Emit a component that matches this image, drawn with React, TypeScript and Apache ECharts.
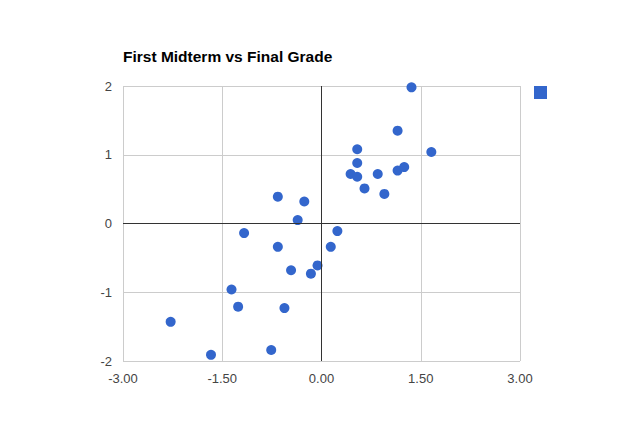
import React, { useEffect, useRef } from "react";
import * as echarts from "echarts";

const firstMidterm = [1.36, 1.15, 1.66, 0.54, 0.54, 0.44, 0.54, 0.85, 1.15, 1.25, 0.65, 0.95, -0.66, -0.26, -0.36, -1.17, 0.24, -0.66, 0.14, -0.46, -0.06, -0.16, -1.36, -1.26, -0.56, -2.28, -0.76, -1.67];
const finalGrade = [1.98, 1.35, 1.04, 1.08, 0.88, 0.72, 0.68, 0.72, 0.77, 0.82, 0.51, 0.43, 0.39, 0.32, 0.05, -0.14, -0.11, -0.34, -0.34, -0.68, -0.61, -0.73, -0.96, -1.21, -1.23, -1.43, -1.84, -1.91];
const xTicks = { min: -3, max: 3, interval: 1.5 };
const yTicks = { min: -2, max: 2, interval: 1 };
const titleText = "First Midterm vs Final Grade";
const seriesName = "Final Grade";

const FONT = "'Liberation Sans', Arial, sans-serif";
const BLUE = "#3366cc";

export default function App() {
  const ref = useRef<HTMLDivElement>(null);
  useEffect(() => {
    if (!ref.current) return;
    const chart = echarts.init(ref.current, undefined, { renderer: "svg" });
    const points = firstMidterm.map((x, i) => [x, finalGrade[i]]);
    chart.setOption({
      animation: false,
      backgroundColor: "#ffffff",
      textStyle: { fontFamily: FONT },
      title: {
        text: titleText,
        left: 123,
        top: 48,
        padding: 0,
        textStyle: { fontFamily: FONT, fontSize: 15.5, fontWeight: "bold", color: "#000000" },
      },
      legend: {
        data: [seriesName],
        left: 534,
        top: 86,
        padding: 0,
        icon: "rect",
        itemWidth: 13,
        itemHeight: 13,
        formatter: () => "",
        selectedMode: false,
      },
      grid: { left: 123, top: 86, width: 397, height: 275, containLabel: false },
      xAxis: {
        type: "value",
        min: xTicks.min,
        max: xTicks.max,
        interval: xTicks.interval,
        axisLine: { show: false },
        axisTick: { show: false },
        splitLine: { show: true, lineStyle: { color: "#cccccc", width: 1 } },
        axisLabel: {
          fontFamily: FONT,
          fontSize: 13,
          color: "#444444",
          margin: 11,
          formatter: (v: number) => v.toFixed(2),
        },
      },
      yAxis: {
        type: "value",
        min: yTicks.min,
        max: yTicks.max,
        interval: yTicks.interval,
        axisLine: { show: false },
        axisTick: { show: false },
        splitLine: { show: true, lineStyle: { color: "#cccccc", width: 1 } },
        axisLabel: {
          fontFamily: FONT,
          fontSize: 13,
          color: "#444444",
          margin: 11,
          formatter: (v: number) => String(v),
        },
      },
      series: [
        {
          type: "scatter",
          name: "zero",
          data: [],
          z: 1,
          silent: true,
          markLine: {
            silent: true,
            symbol: ["none", "none"],
            label: { show: false },
            lineStyle: { color: "#333333", type: "solid", width: 1 },
            data: [{ xAxis: 0 }, { yAxis: 0 }],
          },
        },
        {
          type: "scatter",
          name: seriesName,
          data: points,
          z: 3,
          symbol: "circle",
          symbolSize: 10,
          itemStyle: { color: BLUE, opacity: 1 },
        },
      ],
    });
    return () => chart.dispose();
  }, []);
  return <div ref={ref} style={{ position: "fixed", left: 0, top: 0, width: 644, height: 447 }} />;
}
